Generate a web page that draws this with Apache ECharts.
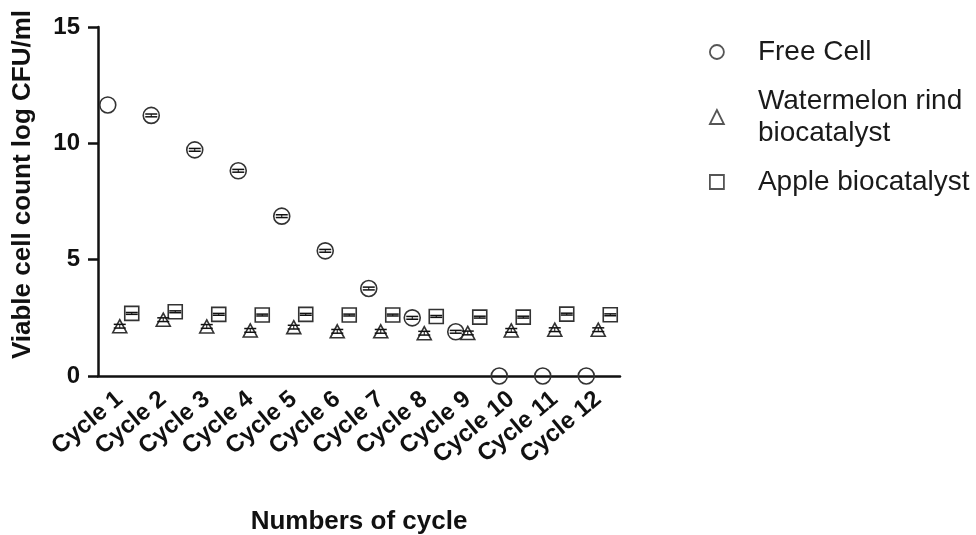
<!DOCTYPE html>
<html>
<head>
<meta charset="utf-8">
<script src="https://cdn.jsdelivr.net/npm/echarts@6/dist/echarts.min.js"></script>
<style>
html,body{margin:0;padding:0;background:#fff;}
#chart{width:976px;height:535px;}
</style>
</head>
<body>
<div id="chart"></div>
<script>
var categories = ['Cycle 1','Cycle 2','Cycle 3','Cycle 4','Cycle 5','Cycle 6','Cycle 7','Cycle 8','Cycle 9','Cycle 10','Cycle 11','Cycle 12'];
var freeCell = [11.65, 11.2, 9.72, 8.82, 6.87, 5.38, 3.76, 2.5, 1.9, 0, 0, 0];
var freeCellSD = [0, 0.06, 0.06, 0.06, 0.06, 0.06, 0.06, 0.06, 0.06, 0, 0, 0];
var watermelon = [2.14, 2.42, 2.13, 1.96, 2.1, 1.92, 1.92, 1.84, 1.85, 1.96, 1.99, 1.99];
var watermelonSD = [0.08, 0.08, 0.08, 0.08, 0.08, 0.08, 0.08, 0.08, 0.08, 0.08, 0.08, 0.08];
var apple = [2.69, 2.76, 2.65, 2.62, 2.65, 2.62, 2.62, 2.56, 2.53, 2.53, 2.66, 2.63];
var appleSD = [0.04, 0.04, 0.04, 0.04, 0.04, 0.04, 0.04, 0.04, 0.04, 0.04, 0.04, 0.04];
var yTicks = [0, 5, 10, 15];

var names = ['Free Cell', 'Watermelon rind\nbiocatalyst', 'Apple biocatalyst'];
var FONT = "'Liberation Sans', Arial, sans-serif";

function pts(vals) { return vals.map(function (v, i) { return [i, v]; }); }
function errPts(vals, sds) {
  var out = [];
  vals.forEach(function (v, i) { if (sds[i] > 0) out.push([i, v, sds[i]]); });
  return out;
}
function errSeries(vals, sds, offset) {
  return {
    type: 'custom',
    silent: true,
    z: 5,
    renderItem: function (params, api) {
      var x = api.value(0), y = api.value(1), sd = api.value(2);
      var top = api.coord([x, y + sd]);
      var bot = api.coord([x, y - sd]);
      var cx = top[0] + offset;
      var hw = 6;
      return {
        type: 'group',
        children: [
          { type: 'line', shape: { x1: cx - hw, y1: top[1], x2: cx + hw, y2: top[1] }, style: { stroke: '#111', lineWidth: 1.5 } },
          { type: 'line', shape: { x1: cx - hw, y1: bot[1], x2: cx + hw, y2: bot[1] }, style: { stroke: '#111', lineWidth: 1.5 } },
          { type: 'line', shape: { x1: cx, y1: top[1], x2: cx, y2: bot[1] }, style: { stroke: '#111', lineWidth: 1 } }
        ]
      };
    },
    encode: { x: 0, y: 1 },
    data: errPts(vals, sds)
  };
}
function markSeries(name, vals, symbol, size, offset) {
  return {
    name: name,
    type: 'scatter',
    symbol: symbol,
    symbolSize: size,
    symbolOffset: [offset, 0],
    z: 4,
    itemStyle: { color: 'rgba(255,255,255,0)', borderColor: '#333', borderWidth: 1.6, opacity: 1 },
    emphasis: { disabled: true },
    data: pts(vals)
  };
}

var chart = echarts.init(document.getElementById('chart'));
chart.setOption({
  animation: false,
  backgroundColor: '#fff',
  grid: { left: 98, width: 522, top: 27, height: 349, containLabel: false, outerBoundsMode: 'none' },
  legend: {
    orient: 'vertical',
    left: 704,
    top: 31,
    itemGap: 17,
    itemWidth: 14,
    itemHeight: 14,
    data: [
      { name: names[0], icon: 'circle', itemStyle: { color: 'rgba(255,255,255,0)', borderColor: '#555', borderWidth: 1.8 } },
      { name: names[1], icon: 'triangle', itemStyle: { color: 'rgba(255,255,255,0)', borderColor: '#555', borderWidth: 1.8 } },
      { name: names[2], icon: 'rect', itemStyle: { color: 'rgba(255,255,255,0)', borderColor: '#555', borderWidth: 1.8 } }
    ],
    textStyle: { fontFamily: FONT, fontSize: 28, color: '#1a1a1a', lineHeight: 32, padding: [0, 0, 0, 29] },
    selectedMode: false
  },
  xAxis: {
    type: 'category',
    data: categories,
    boundaryGap: true,
    name: 'Numbers of cycle',
    nameLocation: 'middle',
    nameGap: 133,
    nameTextStyle: { fontFamily: FONT, fontSize: 26, fontWeight: 'bold', color: '#111' },
    axisLine: { lineStyle: { color: '#111', width: 2.5 } },
    axisTick: { alignWithLabel: true, length: 12, lineStyle: { color: '#111', width: 2.5 } },
    axisLabel: { rotate: 40, margin: 20, interval: 0, fontFamily: FONT, fontSize: 24, fontWeight: 'bold', color: '#111' },
    splitLine: { show: false }
  },
  yAxis: {
    type: 'value',
    min: 0,
    max: 15,
    interval: 5,
    name: 'Viable cell count log CFU/ml',
    nameLocation: 'middle',
    nameGap: 62,
    nameTextStyle: { fontFamily: FONT, fontSize: 26, fontWeight: 'bold', color: '#111', padding: [0, 0, 0, 34] },
    axisLine: { show: true, lineStyle: { color: '#111', width: 2.5 } },
    axisTick: { show: true, length: 10, lineStyle: { color: '#111', width: 2.5 } },
    axisLabel: {
      margin: 18, fontFamily: FONT, fontSize: 24, fontWeight: 'bold', color: '#111',
      formatter: function (v) { return yTicks.indexOf(v) >= 0 ? String(v) : ''; }
    },
    splitLine: { show: false }
  },
  series: [
    markSeries(names[0], freeCell, 'circle', 16, -12),
    markSeries(names[1], watermelon, 'triangle', [14, 13], 0),
    markSeries(names[2], apple, 'rect', 14, 12),
    errSeries(freeCell, freeCellSD, -12),
    errSeries(watermelon, watermelonSD, 0),
    errSeries(apple, appleSD, 12)
  ]
});
</script>
</body>
</html>
